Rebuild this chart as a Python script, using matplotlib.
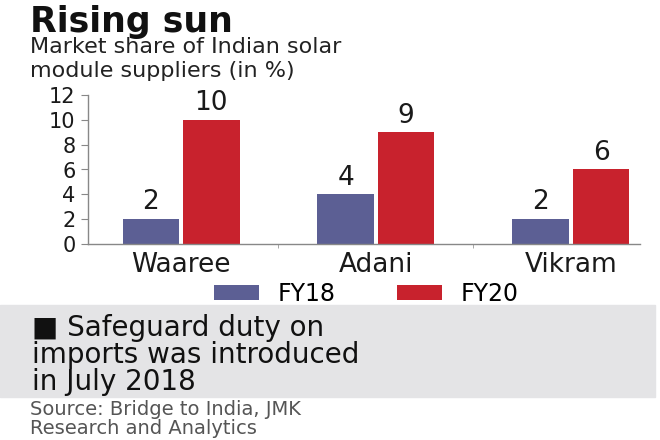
import numpy as np
import matplotlib.pyplot as plt
from matplotlib.patches import Rectangle

plt.rcParams['font.family'] = ['DejaVu Sans']

suppliers = ['Waaree', 'Adani', 'Vikram']
fy18 = [2, 4, 2]
fy20 = [10, 9, 6]
series_names = ['FY18', 'FY20']
yticks = [0, 2, 4, 6, 8, 10, 12]

c18 = '#5c5f94'
c20 = '#c8222d'

fig = plt.figure(figsize=(6.6, 4.4), dpi=100)
ax = fig.add_axes([88 / 660, 1 - 244 / 440, (640 - 88) / 660, (244 - 95) / 440])

x = np.arange(len(suppliers))
w = 0.29
b1 = ax.bar(x - 0.155, fy18, w, color=c18, label=series_names[0])
b2 = ax.bar(x + 0.155, fy20, w, color=c20, label=series_names[1])

for bars in (b1, b2):
    for r in bars:
        ax.text(r.get_x() + r.get_width() / 2, r.get_height() + 0.3, '%d' % r.get_height(),
                ha='center', va='bottom', fontsize=19, color='#1a1a1a')

ax.set_xlim(-0.477, 2.354)
ax.set_ylim(0, 12)
ax.set_yticks(yticks)
ax.set_yticklabels([str(t) for t in yticks], fontsize=15, color='#1a1a1a')
ax.set_xticks(x)
ax.set_xticklabels(suppliers, fontsize=19, color='#1a1a1a')
ax.set_xticks([0.5, 1.5], minor=True)
ax.tick_params(axis='x', which='major', length=0, pad=6)
ax.tick_params(axis='x', which='minor', length=3, color='#999999')
ax.tick_params(axis='y', length=5, color='#888888', pad=4)
for s in ['top', 'right']:
    ax.spines[s].set_visible(False)
for s in ['left', 'bottom']:
    ax.spines[s].set_color('#888888')
    ax.spines[s].set_linewidth(1)

fig.legend(handles=[b1, b2], loc='center', bbox_to_anchor=(0.555, 1 - 294 / 440), ncol=2,
           frameon=False, fontsize=17, handlelength=1.9, handleheight=0.6,
           columnspacing=2.6, handletextpad=0.8)

# titles
fig.text(30 / 660, 1 - 5 / 440, 'Rising sun', fontsize=25, fontweight='bold',
         ha='left', va='top', color='#111111')
fig.text(30 / 660, 1 - 37 / 440, 'Market share of Indian solar\nmodule suppliers (in %)',
         fontsize=16, ha='left', va='top', color='#222222', linespacing=1.25)

# note box
fig.patches.append(Rectangle((0, 1 - 397 / 440), 655 / 660, 92 / 440,
                             transform=fig.transFigure, color='#e4e4e6', zorder=0))
fig.text(32 / 660, 1 - 314 / 440, '\u25a0 Safeguard duty on\nimports was introduced\nin July 2018',
         fontsize=20, ha='left', va='top', color='#111111', linespacing=0.95)

fig.text(30 / 660, 1 - 400 / 440, 'Source: Bridge to India, JMK\nResearch and Analytics',
         fontsize=14, ha='left', va='top', color='#555555', linespacing=1.0)

plt.savefig('out.png', dpi=100)
